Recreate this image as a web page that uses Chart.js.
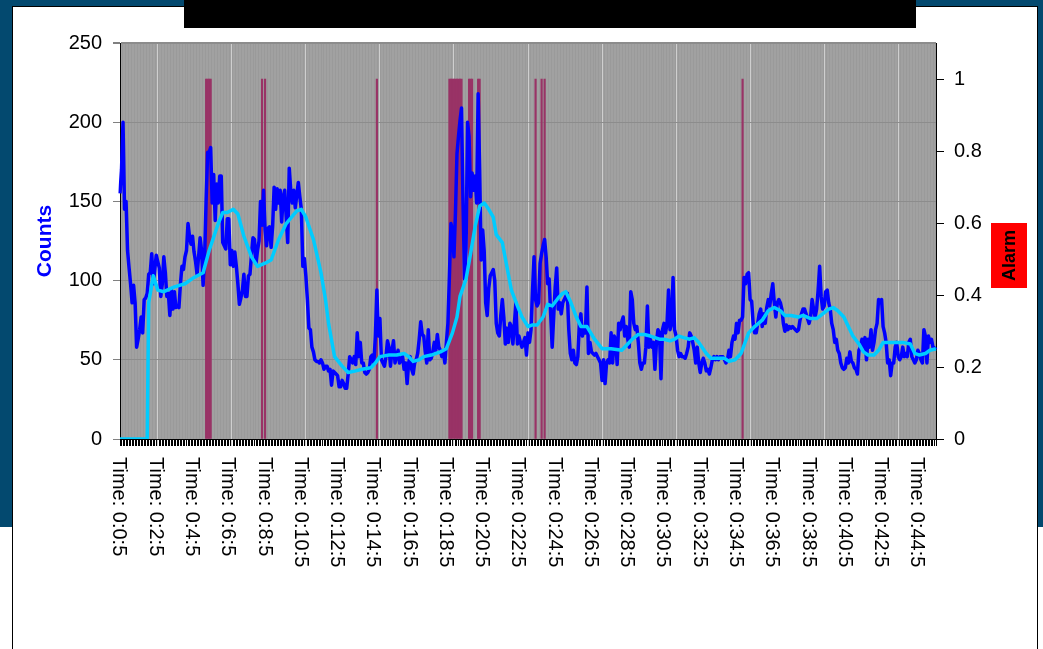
<!DOCTYPE html>
<html>
<head>
<meta charset="utf-8">
<title>Counts and alarm</title>
<script src="https://cdn.jsdelivr.net/npm/chart.js@4.4.1/dist/chart.umd.min.js"></script>
<style>
  html, body { margin:0; padding:0; overflow:hidden; background:#fff; }
  #backdrop { position:absolute; left:0; top:0; width:1043px; height:527px; background:#03496f; }
  #sheet { position:absolute; left:12px; top:6px; width:1026px; height:643px; background:#fff;
           border:1px solid #000; border-bottom:none; box-sizing:border-box; }
  #band { position:absolute; left:184px; top:0; width:732px; height:28px; background:#000; }
  #wrap { position:absolute; left:0; top:0; width:1043px; height:649px; }
</style>
</head>
<body>
<div id="backdrop"></div>
<div id="sheet"></div>
<div id="band"></div>
<div id="wrap"><canvas id="chart" width="1043" height="649"></canvas></div>
<script>
// one sample every 5 s
const sampleSec = 5;

// raw counts per sample
const counts = [
  155,170,200,145,150,119,108,98,86,97,
  86,58,63,69,77,67,88,89,92,104,
  105,117,98,107,116,112,108,90,98,115,
  105,90,92,78,94,82,93,83,84,83,
  98,109,107,115,119,136,128,123,128,118,
  112,104,115,127,119,97,115,151,181,181,
  184,149,167,138,161,149,166,166,124,122,
  120,139,139,110,119,109,118,109,98,85,
  89,94,104,90,90,103,104,116,127,126,
  111,119,125,150,135,157,132,122,133,134,
  121,134,159,145,158,149,157,137,153,157,
  140,124,171,157,149,157,146,154,162,153,
  145,109,114,103,88,70,69,58,55,50,
  49,49,48,50,48,44,46,46,43,44,
  34,43,42,41,40,33,33,37,35,32,
  32,41,52,50,48,52,47,67,52,61,
  48,48,42,41,42,44,52,53,48,65,
  94,65,76,50,48,46,52,62,58,46,
  56,62,48,52,56,48,50,52,44,48,
  35,48,52,44,41,48,50,54,63,74,
  66,65,55,48,69,50,51,55,61,56,
  66,58,56,52,55,48,61,73,103,136,
  132,115,143,180,191,201,209,149,101,120,
  200,191,153,168,157,166,149,218,170,113,
  132,119,86,78,95,103,105,107,100,73,
  67,65,78,88,77,60,70,61,73,71,
  60,73,86,60,65,61,58,61,64,53,
  67,61,69,94,115,88,84,86,111,117,
  122,126,115,98,101,79,58,77,96,108,
  82,86,79,86,88,90,92,69,54,50,
  56,48,47,52,73,79,65,69,67,96,
  54,61,55,54,53,54,52,50,48,37,
  50,35,48,50,48,67,48,65,63,47,
  73,69,74,77,65,71,63,58,93,88,
  73,69,71,61,48,44,48,48,58,84,
  58,63,58,61,44,61,69,67,38,69,
  73,67,73,94,69,73,102,69,65,56,
  52,54,52,52,51,54,58,67,65,61,
  56,48,58,48,42,48,51,48,43,44,
  41,45,50,52,50,52,50,52,52,52,
  50,48,50,56,52,61,65,63,73,67,
  75,75,77,102,98,104,105,88,87,73,
  67,67,73,79,82,71,79,73,83,88,
  84,92,98,86,77,86,88,86,82,73,
  68,72,69,71,70,71,70,69,68,69,
  75,79,82,82,79,76,73,77,88,82,
  77,82,94,109,90,82,84,93,94,86,
  82,73,69,61,63,56,54,48,45,44,
  45,51,48,55,49,48,45,44,41,56,
  58,63,58,64,50,63,58,69,56,61,
  69,73,88,86,88,71,67,61,48,50,
  40,48,48,58,61,52,50,52,58,52,
  54,52,61,63,52,50,48,50,56,54,
  50,48,69,65,48,65,61,63,58,57,58
];

// running average, [sample index, value]
const avgPts = [
  [0,0],[18,0],[19,86],[22,103],[25,94],[29,93],[36,96],[43,98],[49,102],[55,105],
  [59,119],[65,136],[68,143],[71,143],[75,145],[78,142],[82,128],[87,115],[91,109],[96,111],
  [100,113],[105,126],[110,136],[117,144],[120,145],[123,140],[128,126],[133,105],[136,88],[138,73],
  [142,52],[147,46],[151,42],[156,43],[160,44],[166,45],[169,48],[172,52],[178,53],[183,53],
  [188,54],[191,52],[194,49],[198,50],[201,52],[206,53],[212,55],[216,57],[220,67],[223,77],
  [225,90],[229,101],[232,117],[235,134],[238,147],[241,149],[244,145],[247,140],[249,129],[253,124],
  [256,109],[259,94],[263,84],[266,77],[270,71],[273,72],[276,72],[280,77],[283,85],[286,84],
  [290,89],[293,92],[295,93],[298,87],[302,77],[305,71],[309,71],[314,63],[319,57],[325,57],
  [332,56],[336,60],[339,63],[343,66],[347,66],[351,65],[357,63],[360,63],[364,62],[367,63],
  [370,65],[373,64],[377,63],[380,64],[383,61],[388,54],[391,51],[395,51],[400,51],[403,49],
  [407,50],[411,54],[416,67],[420,71],[425,75],[429,81],[433,83],[437,81],[440,78],[444,78],
  [449,77],[452,78],[457,76],[461,76],[465,79],[469,82],[472,83],[475,81],[479,77],[482,71],
  [485,65],[489,60],[492,55],[495,53],[499,53],[502,56],[505,61],[510,61],[514,61],[518,61],
  [523,60],[526,54],[529,53],[533,54],[536,56],[540,57]
];

// samples where the alarm was raised
const alarmAt = [57,58,59,60,94,96,170,218,219,220,221,222,223,224,225,226,231,232,233,237,238,275,279,281,412];

const leftTicks = [0, 50, 100, 150, 200, 250];
const rightTicks = [0, 0.2, 0.4, 0.6, 0.8, 1];
const labelEvery = 24;
const majorLines = [25, 74, 123, 172, 221, 270, 319, 368, 417, 466, 515];

const times = counts.map((_, i) => {
  const s = (i + 1) * sampleSec;
  return 'Time: ' + Math.floor(s / 3600) + ':' + Math.floor((s % 3600) / 60) + ':' + (s % 60);
});

const avgData = new Array(counts.length).fill(null);
avgPts.forEach(([i, v]) => { avgData[i] = v; });
const alarmData = new Array(counts.length).fill(null);
alarmAt.forEach(i => { alarmData[i] = 1; });

const FONT = '"Liberation Sans", Arial, sans-serif';
Chart.defaults.font.family = FONT;
Chart.defaults.color = '#000';

const decor = {
  id: 'decor',
  beforeDraw(chart) {
    const {ctx, chartArea: a} = chart;
    ctx.save();
    ctx.fillStyle = '#9a9a9a';
    ctx.fillRect(a.left, a.top, a.right - a.left, a.bottom - a.top);
    ctx.restore();
  },
  afterDraw(chart) {
    const {ctx, chartArea: a} = chart;
    const xs = chart.scales.x;
    ctx.save();
    // rotated time labels, reading downwards
    ctx.font = '20px ' + FONT;
    ctx.fillStyle = '#000';
    ctx.textAlign = 'left';
    ctx.textBaseline = 'middle';
    for (let i = 0; i < times.length; i += labelEvery) {
      ctx.save();
      ctx.translate(xs.getPixelForValue(i) - 1, a.bottom + 18);
      ctx.rotate(Math.PI / 2);
      ctx.fillText(times[i], 0, 0);
      ctx.restore();
    }
    // secondary axis caption
    ctx.fillStyle = '#ff0000';
    ctx.fillRect(991, 223, 36, 65);
    ctx.translate(1009, 255.5);
    ctx.rotate(-Math.PI / 2);
    ctx.fillStyle = '#000';
    ctx.font = 'bold 18px ' + FONT;
    ctx.textAlign = 'center';
    ctx.fillText('Alarm', 0, 1);
    ctx.restore();
  }
};

new Chart(document.getElementById('chart'), {
  type: 'line',
  data: {
    labels: times,
    datasets: [
      {
        label: 'Average', data: avgData, yAxisID: 'y', order: 0,
        borderColor: '#00ccff', borderWidth: 3.5, pointRadius: 0, spanGaps: true,
        borderJoinStyle: 'round', tension: 0
      },
      {
        label: 'Counts', data: counts, yAxisID: 'y', order: 1,
        borderColor: '#0000ff', borderWidth: 3.5, pointRadius: 0,
        borderJoinStyle: 'round', tension: 0
      },
      {
        type: 'bar', label: 'Alarm', data: alarmData, yAxisID: 'y1', order: 2,
        backgroundColor: '#993366', borderWidth: 0,
        barPercentage: 1, categoryPercentage: 1
      }
    ]
  },
  options: {
    responsive: false,
    animation: false,
    devicePixelRatio: 1,
    layout: { padding: { top: 43, left: 0, right: 0, bottom: 0 } },
    plugins: { legend: { display: false }, tooltip: { enabled: false } },
    scales: {
      x: {
        type: 'category',
        offset: false,
        afterFit: s => { s.height = 210; },
        ticks: { display: false },
        grid: {
          offset: false,
          tickLength: 7,
          color: c => majorLines.includes(c.index) ? '#cfcfcf' : 'rgba(255,255,255,0.07)',
          tickColor: c => majorLines.includes(c.index) ? '#cfcfcf' : '#000'
        },
        border: { color: '#000' }
      },
      y: {
        position: 'left',
        min: 0, max: 250,
        afterBuildTicks: s => { s.ticks = leftTicks.map(v => ({ value: v })); },
        afterFit: s => { s.width = 120; },
        ticks: { font: { size: 20 }, padding: 11, callback: v => v },
        grid: {
          tickLength: 7, tickColor: '#808080',
          color: '#8c8c8c',
          lineWidth: c => c.tick && c.tick.value === 250 ? 2 : 1
        },
        border: { color: '#000' },
        title: {
          display: true, text: 'Counts', color: '#0000ff',
          font: { size: 21, weight: 'bold' }, padding: { top: 33 }
        }
      },
      y1: {
        position: 'right',
        min: 0, max: 1.1,
        afterBuildTicks: s => { s.ticks = rightTicks.map(v => ({ value: v })); },
        afterFit: s => { s.width = 107; },
        ticks: { font: { size: 20 }, padding: 10, callback: v => v },
        grid: { drawOnChartArea: false, tickLength: 8, tickColor: '#000' },
        border: { color: '#000' }
      }
    }
  },
  plugins: [decor]
});
</script>
</body>
</html>
